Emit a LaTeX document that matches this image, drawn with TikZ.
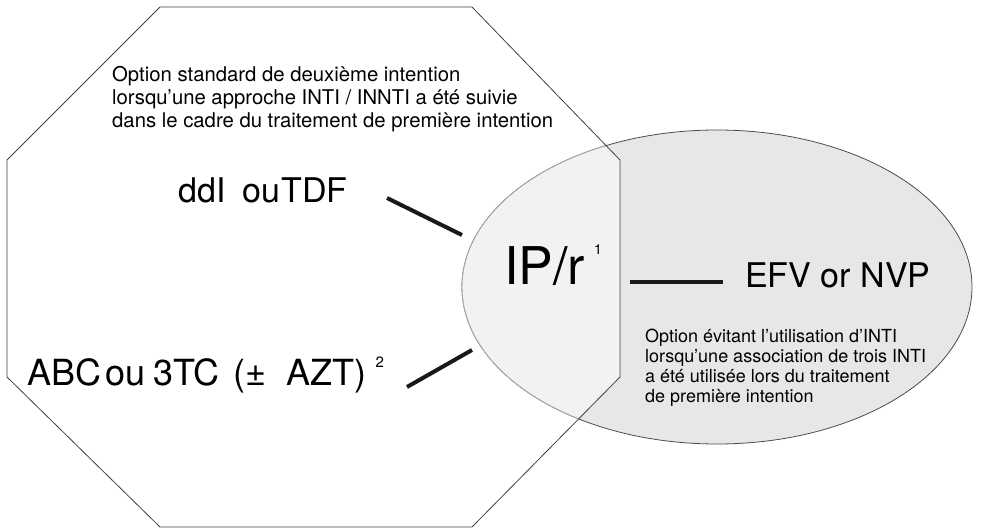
\documentclass[tikz,border=0pt]{standalone}
\usepackage{fontspec}
\setmainfont{TeX Gyre Heros}
\definecolor{ovalgray}{HTML}{E6E7E8}
\definecolor{overlapgray}{HTML}{F1F2F2}

\begin{document}
\begin{tikzpicture}[x=1pt, y=-1pt, every node/.style={inner sep=0pt, anchor=base west}]
  \tikzset{linkstyle/.style={line width=4pt, black!90}}
  \tikzset{octstyle/.style={line width=0.8pt, black!75}}
  \useasboundingbox (0,0) rectangle (985,529);
  % octagon corners
  \coordinate (o1) at (160,7);
  \coordinate (o2) at (472,7);
  \coordinate (o3) at (620,160);
  \coordinate (o4) at (620,377);
  \coordinate (o5) at (472,527);
  \coordinate (o6) at (160,527);
  \coordinate (o7) at (7,377);
  \coordinate (o8) at (7,160);
  \coordinate (oc) at (717,287);

  % the oval, lighter where it meets the octagon
  \fill[ovalgray] (oc) ellipse [x radius=255, y radius=157];
  \draw[line width=0.8pt, black!70] (oc) ellipse [x radius=255, y radius=157];
  \begin{scope}
    \clip (o1) -- (o2) -- (o3) -- (o4) -- (o5) -- (o6) -- (o7) -- (o8) -- cycle;
    \fill[overlapgray] (oc) ellipse [x radius=255, y radius=157];
    \draw[line width=0.9pt, black!35] (oc) ellipse [x radius=255, y radius=157];
  \end{scope}
  \draw[octstyle] (o1) -- (o2) -- (o3) -- (o4) -- (o5) -- (o6) -- (o7) -- (o8) -- cycle;

  % texts (multi-line nodes sit on their last line)
  \node[align=left, font=\fontsize{20.3}{23}\selectfont] (top) at (112,128)
    {Option standard de deuxième intention\\
     lorsqu’une approche INTI / INNTI a été suivie\\
     dans le cadre du traitement de première intention};
  \node[font=\fontsize{34}{36}\selectfont] (ddi) at (178,203) {ddI\enspace ou\kern1pt TDF};
  \node[font=\fontsize{52}{60}\selectfont] (ipr) at (504,285)
    {IP/r\kern9pt\raisebox{30pt}{\fontsize{14}{14}\selectfont 1}};
  \node[font=\fontsize{34}{38}\selectfont] (efv) at (745,288) {EFV or NVP};
  \node[font=\fontsize{36}{40}\selectfont] (abc) at (27,385)
    {ABC\kern4pt ou\kern8pt 3TC\kern14pt (±\kern20pt AZT)\kern9pt\raisebox{18pt}{\fontsize{15}{15}\selectfont 2}};
  \node[align=left, font=\fontsize{18}{20}\selectfont] (bottom) at (645,402)
    {Option évitant l’utilisation d’INTI\\
     lorsqu’une association de trois INTI\\
     a été utilisée lors du traitement\\
     de première intention};

  % links
  \coordinate (l1a) at (387,198);
  \coordinate (l1b) at (462,235);
  \coordinate (l2a) at (407,387);
  \coordinate (l2b) at (472,350);
  \coordinate (l3a) at (630,282);
  \coordinate (l3b) at (723,282);
  \draw[linkstyle] (l1a) -- (l1b);
  \draw[linkstyle] (l2a) -- (l2b);
  \draw[linkstyle] (l3a) -- (l3b);
\end{tikzpicture}
\end{document}
